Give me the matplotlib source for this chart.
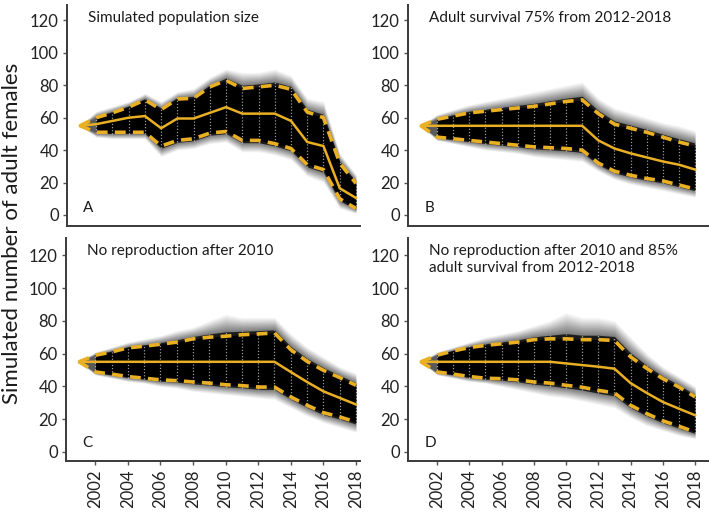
import numpy as np
import matplotlib
matplotlib.use('Agg')
import matplotlib.pyplot as plt

plt.rcParams['font.family'] = ['Lato', 'DejaVu Sans']

# years of the simulation (2001 = starting population)
years = list(range(2001, 2019))

titles = ['Simulated population size',
          'Adult survival 75% from 2012-2018',
          'No reproduction after 2010',
          'No reproduction after 2010 and 85%\nadult survival from 2012-2018']
letters = ['A', 'B', 'C', 'D']

# median trajectories
med_a = [55, 56, 58, 60, 61, 53.5, 59.5, 59.5, 63, 66.5, 62.5, 62.5, 62.5, 58, 45, 42.5, 16.5, 10.5]
med_b = [55, 55, 55, 55, 55, 55, 55, 55, 55, 55, 55, 46, 41, 38, 35.5, 33, 31, 28]
med_c = [55, 55, 55, 55, 55, 55, 55, 55, 55, 55, 55, 55, 55, 48.8, 42.7, 37, 33, 29]
med_d = [55, 55, 55, 55, 55, 55, 55, 55, 55, 54, 53, 52, 50.8, 42, 36, 30.5, 26.4, 22.4]

# upper / lower quantiles (dashed)
up_a = [55, 60, 63, 66.5, 71, 65, 71.5, 72, 79, 83, 78, 79, 80, 77.5, 63.5, 60, 32, 19.5]
lo_a = [55, 51, 51, 51, 51, 42.5, 46, 47, 50.5, 51.5, 46, 46, 44, 41, 31, 28, 10, 4]
up_b = [55, 59, 61, 63, 64, 65, 66, 67, 68.5, 70, 71, 62.5, 56, 53.5, 51, 48, 45, 42.5]
lo_b = [55, 48, 47, 46, 45, 44, 43, 42, 41.5, 41, 40, 32, 27, 24.5, 22.5, 21, 18.5, 16]
up_c = [55, 59, 61, 63.5, 64.5, 65.7, 67, 69, 70, 70.6, 71.5, 72, 72.6, 62.4, 55.3, 49.8, 45.4, 40.7]
lo_c = [55, 48.8, 47.5, 46, 45, 44, 43.5, 42.7, 42, 41, 40.5, 39.6, 39.6, 33.6, 28.5, 24, 21.4, 18.3]
up_d = [55, 59, 61.6, 63.7, 65, 66, 67, 68.5, 69, 69, 68.5, 68.5, 68, 58, 51, 44.7, 39.6, 33.6]
lo_d = [55, 48.8, 47.5, 46, 45, 44.7, 44, 42.7, 42, 40.7, 39.5, 37.6, 36, 28.5, 23.4, 19, 15.7, 12.2]

# outer range of the individual simulations
max_a = [55, 64, 67, 70, 75, 70, 76, 78, 85, 90, 88, 88, 90, 86, 72, 70, 38, 25]
min_a = [55, 48, 47, 47, 47, 36, 40, 41, 44, 45, 39, 39, 37, 34, 24, 20, 4, 1]
max_b = [55, 62, 65, 68, 70, 72, 74, 76, 78, 80, 82, 72, 66, 63, 60, 57, 55, 52]
min_b = [55, 46, 44, 42, 40, 39, 38, 36, 35, 34, 33, 27, 22, 19, 17, 15, 13, 11]
max_c = [55, 61, 64, 67, 69, 71, 74, 76, 80, 84, 82, 82, 82, 72, 64, 58, 52, 48]
min_c = [55, 47, 45, 43, 42, 40, 39, 37, 36, 35, 34, 33, 32, 27, 22, 18, 15, 12]
max_d = [55, 61, 64, 67, 70, 72, 74, 77, 80, 85, 82, 82, 80, 70, 60, 52, 46, 40]
min_d = [55, 47, 45, 43, 42, 40, 38, 36, 34, 33, 31, 29, 27, 21, 16, 13, 10, 8]

panels = [(med_a, up_a, lo_a, max_a, min_a),
          (med_b, up_b, lo_b, max_b, min_b),
          (med_c, up_c, lo_c, max_c, min_c),
          (med_d, up_d, lo_d, max_d, min_d)]

orange = '#EAB024'
spine_col = '#3a3a3a'

fig = plt.figure(figsize=(7.09, 5.16), dpi=100)
# axes boxes in pixels (left, top, width, height)
W, H = 709., 516.
boxes = [(67, 5, 293, 221), (408, 5, 300, 221),
         (66, 238, 294, 223), (408, 238, 300, 223)]

for i, (med, up, lo, mx, mn) in enumerate(panels):
    x0, y0, w, h = boxes[i]
    ax = fig.add_axes([x0 / W, 1 - (y0 + h) / H, w / W, h / H])
    yr = np.array(years, dtype=float)
    med, up, lo, mx, mn = map(np.array, (med, up, lo, mx, mn))

    # faint cloud of simulated trajectories, darkening towards the quantiles
    for k in np.linspace(0, 1, 14):
        hi_k = mx + k * (up - mx)
        lo_k = mn + k * (lo - mn)
        ax.fill_between(yr, lo_k, hi_k, color='black', alpha=0.045 + 0.05 * k, lw=0)
    # dense core from 2002 on
    core_hi = up + 0.2 * (mx - up)
    core_lo = lo + 0.2 * (mn - lo)
    ax.fill_between(yr[1:], core_lo[1:], core_hi[1:], color='black', alpha=0.75, lw=0)
    ax.fill_between(yr[1:], lo[1:], up[1:], color='black', lw=0)

    # white dotted columns at each year
    ax.vlines(yr[1:], core_lo[1:], core_hi[1:], colors='white', linestyles=(0, (1, 1.5)),
              lw=0.9, alpha=0.6)

    ax.plot(yr, med, color=orange, lw=1.8, solid_joinstyle='miter')
    ax.plot(yr, up, color=orange, lw=2.6, dashes=(3, 2))
    ax.plot(yr, lo, color=orange, lw=2.6, dashes=(3, 2))

    ax.set_xlim(2000.2, 2018.8 if i % 2 else 2018.25)
    ylo = -6.8 if i < 2 else -5.5
    ax.set_ylim(ylo, 129.5 if i < 2 else 130.5)
    ax.set_yticks(range(0, 121, 20))
    ax.tick_params(axis='y', length=3, width=1, color='#555555', labelsize=12,
                   labelcolor='#222222', pad=3)
    if i < 2:
        ax.set_xticks([])
    else:
        ax.set_xticks(range(2002, 2019, 2))
        ax.tick_params(axis='x', length=3, width=1, color='#555555', labelsize=12,
                       labelcolor='#222222', labelrotation=90, pad=3)

    for s in ['top', 'right']:
        ax.spines[s].set_visible(False)
    for s in ['left', 'bottom']:
        ax.spines[s].set_color(spine_col)
        ax.spines[s].set_linewidth(1.4)

    ax.text(0.07, 0.975, titles[i], transform=ax.transAxes, ha='left', va='top',
            fontsize=11, color='#1a1a1a', linespacing=1.35)
    ax.text(0.055, 0.05, letters[i], transform=ax.transAxes, ha='left', va='bottom',
            fontsize=11, color='#1a1a1a')

fig.text(0.017, 0.548, 'Simulated number of adult females', rotation=90,
         ha='center', va='center', fontsize=16, color='#1a1a1a')

fig.savefig('out.png', dpi=100)
